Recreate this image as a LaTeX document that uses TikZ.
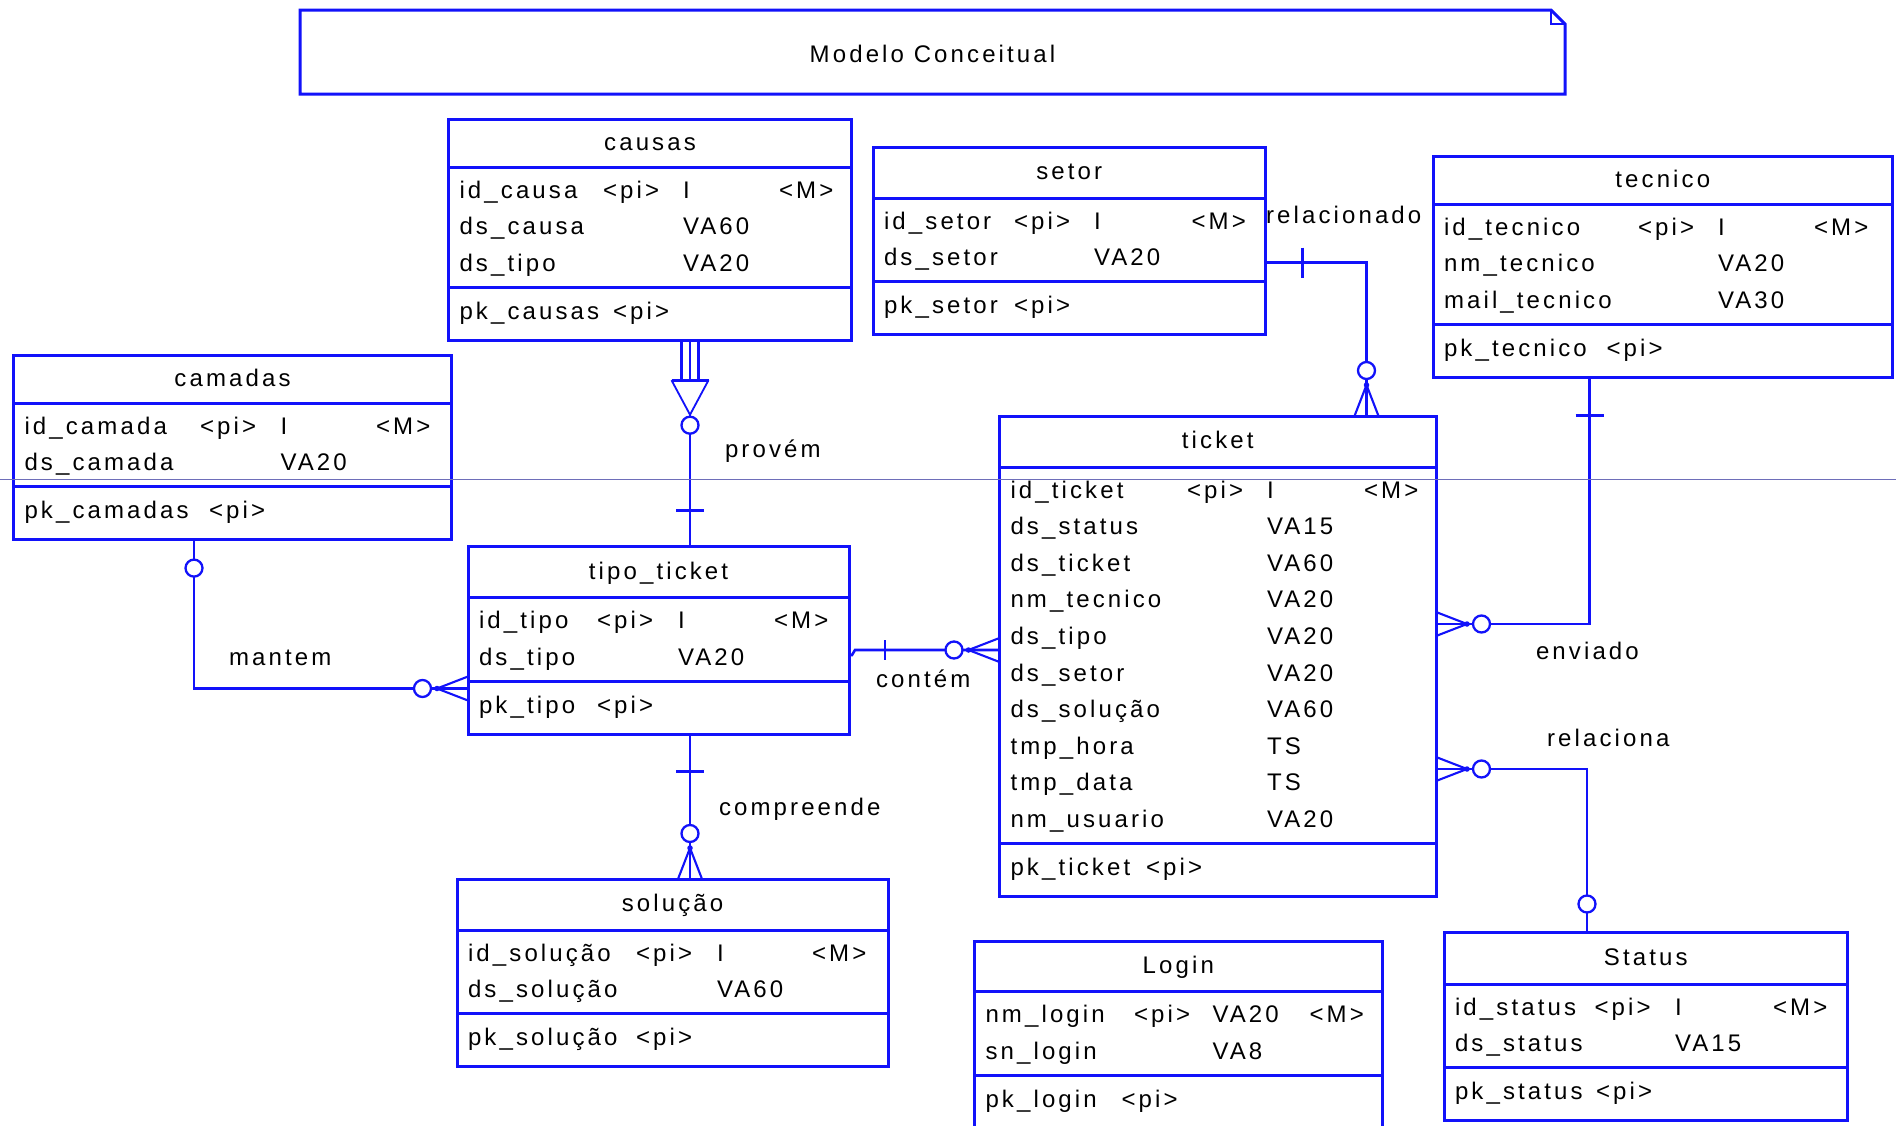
\documentclass[tikz,border=0pt]{standalone}
\usepackage{fontspec}
\setmainfont{Liberation Sans}[LetterSpace=13]
\definecolor{erblue}{RGB}{18,18,250}
\definecolor{pageline}{RGB}{110,110,185}
\newcommand\erfont{\fontsize{24bp}{28bp}\selectfont}
\tikzset{
  entframe/.style={draw=erblue, line width=3bp, rectangle, inner sep=0pt, outer sep=0pt, anchor=north west},
  entline/.style={draw=erblue, line width=3bp},
  conn/.style={draw=erblue, line width=2.6bp},
  prong/.style={draw=erblue, line width=2.1bp},
  celltext/.style={anchor=base west, inner sep=0pt, outer sep=0pt, font=\erfont, text=black},
  headtext/.style={anchor=base, inner sep=0pt, outer sep=0pt, font=\erfont, text=black},
  optcirc/.style={circle, draw=erblue, fill=white, line width=2.3bp, minimum size=17bp, inner sep=0pt},
  junction/.style={circle, fill=erblue, minimum size=5.5bp, inner sep=0pt},
}
% entity: id, left, top, right, header height, title, <pi> column, type column, <M> column
\newcommand\entity[9]{%
  \gdef\eN{#1}\gdef\eL{#2}\gdef\eT{#3}\gdef\eR{#4}\gdef\eH{#5}%
  \gdef\eP{#7}\gdef\eY{#8}\gdef\eM{#9}%
  \node[headtext] (#1-title) at ({(#2+#4)/2}, {#3+#5/2+7}) {#6};%
}
% attribute row: index, name, identifier flag, type, mandatory flag
\newcommand\attr[5]{%
  \pgfmathsetmacro\yb{\eT+\eH+31+36.6*(#1-1)}%
  \node[celltext] (\eN-a#1) at (\eL+11, \yb) {#2};%
  \if\relax\detokenize{#3}\relax\else\node[celltext] (\eN-p#1) at (\eL+\eP, \yb) {#3};\fi
  \if\relax\detokenize{#4}\relax\else\node[celltext] (\eN-t#1) at (\eL+\eY, \yb) {#4};\fi
  \if\relax\detokenize{#5}\relax\else\node[celltext] (\eN-m#1) at (\eL+\eM, \yb) {#5};\fi
}
% closes an entity: number of rows, key name, key <pi> column
\newcommand\entityend[3]{%
  \pgfmathsetmacro\dv{\eT+\eH+47+36.6*(#1-1)}%
  \pgfmathsetmacro\eB{\dv+53}%
  \node[entframe, minimum width={(\eR-\eL)*1bp}, minimum height={(\eB-\eT)*1bp}] (\eN) at (\eL,\eT) {};%
  \draw[entline] ([yshift={-\eH*1bp}]\eN.north west) -- ([yshift={-\eH*1bp}]\eN.north east);%
  \draw[entline] ([yshift={-(\dv-\eT)*1bp}]\eN.north west) -- ([yshift={-(\dv-\eT)*1bp}]\eN.north east);%
  \node[celltext] (\eN-k) at (\eL+11, \dv+32) {#2};%
  \node[celltext] (\eN-kp) at (\eL+#3, \dv+32) {<pi>};%
}
% many side with optional circle: prefix, point on the entity edge, direction of the line
\newcommand\crowfoot[3]{%
  \begin{scope}[shift={(#2)}, rotate=#3]
    \draw[prong] (0,-12) -- (31,0) -- (0,12);
    \draw[prong] (0,0) -- (31,0);
    \node[junction] (#1-j) at (31,0) {};
    \node[optcirc] (#1-o) at (45.5,0) {};
  \end{scope}}
\begin{document}
\begin{tikzpicture}[x=1bp, y=-1bp]
\useasboundingbox (0,0) rectangle (1896,1125);
\clip (0,0) rectangle (1896,1125);
\fill[white] (0,0) rectangle (1896,1125);

% title note with folded corner
\node[inner sep=0pt, outer sep=0pt, minimum width=1265bp, minimum height=84bp, anchor=north west] (note) at (300,10) {};
\draw[entline] (note.north west) -- ([xshift=-14bp]note.north east) -- ([yshift=-14bp]note.north east) -- (note.south east) -- (note.south west) -- cycle;
\draw[erblue, line width=1.4bp] ([xshift=-14bp]note.north east) |- ([yshift=-14bp]note.north east);
\node[headtext] (note-text) at ([yshift=-10bp]note.center) {Modelo Conceitual};

% entities
\entity{causas}{448.5}{119.5}{851.5}{47.5}{causas}{154.5}{234.5}{330.5}
\attr{1}{id\_causa}{<pi>}{I}{<M>}
\attr{2}{ds\_causa}{}{VA60}{}
\attr{3}{ds\_tipo}{}{VA20}{}
\entityend{3}{pk\_causas}{164.5}

\entity{setor}{873}{147}{1265.5}{51}{setor}{141}{221}{318.5}
\attr{1}{id\_setor}{<pi>}{I}{<M>}
\attr{2}{ds\_setor}{}{VA20}{}
\entityend{2}{pk\_setor}{141}

\entity{tecnico}{1433}{156}{1892.5}{48}{tecnico}{205}{285}{381}
\attr{1}{id\_tecnico}{<pi>}{I}{<M>}
\attr{2}{nm\_tecnico}{}{VA20}{}
\attr{3}{mail\_tecnico}{}{VA30}{}
\entityend{3}{pk\_tecnico}{173.5}

\entity{camadas}{13.5}{355}{451.5}{48}{camadas}{186.5}{267}{362.5}
\attr{1}{id\_camada}{<pi>}{I}{<M>}
\attr{2}{ds\_camada}{}{VA20}{}
\entityend{2}{pk\_camadas}{195.5}

\entity{ticket}{999.5}{416}{1436}{51}{ticket}{187.5}{267.5}{364.5}
\attr{1}{id\_ticket}{<pi>}{I}{<M>}
\attr{2}{ds\_status}{}{VA15}{}
\attr{3}{ds\_ticket}{}{VA60}{}
\attr{4}{nm\_tecnico}{}{VA20}{}
\attr{5}{ds\_tipo}{}{VA20}{}
\attr{6}{ds\_setor}{}{VA20}{}
\attr{7}{ds\_solução}{}{VA60}{}
\attr{8}{tmp\_hora}{}{TS}{}
\attr{9}{tmp\_data}{}{TS}{}
\attr{10}{nm\_usuario}{}{VA20}{}
\entityend{10}{pk\_ticket}{146.5}

\entity{tipo}{468}{546.7}{849}{51}{tipo\_ticket}{129}{210}{306}
\attr{1}{id\_tipo}{<pi>}{I}{<M>}
\attr{2}{ds\_tipo}{}{VA20}{}
\entityend{2}{pk\_tipo}{129}

\entity{solucao}{457}{879}{888}{51}{solução}{179}{260}{355}
\attr{1}{id\_solução}{<pi>}{I}{<M>}
\attr{2}{ds\_solução}{}{VA60}{}
\entityend{2}{pk\_solução}{179}

\entity{login}{974.5}{941}{1382}{50.5}{Login}{159.5}{238}{335}
\attr{1}{nm\_login}{<pi>}{VA20}{<M>}
\attr{2}{sn\_login}{}{VA8}{}
\entityend{2}{pk\_login}{147}

\entity{status}{1444}{932.5}{1847.5}{51.5}{Status}{150.5}{231}{329}
\attr{1}{id\_status}{<pi>}{I}{<M>}
\attr{2}{ds\_status}{}{VA15}{}
\entityend{2}{pk\_status}{152}

% provém: causas -> tipo_ticket
\coordinate (pv) at (690,400);
\coordinate (pv-t) at (causas.south -| pv);
\coordinate (pv-b) at (tipo.north -| pv);
\coordinate (pv-bar) at ([yshift=-40bp]pv-t);
\coordinate (pv-apex) at ([yshift=-74.5bp]pv-t);
\foreach \dx in {-8.5,0,8.5}
  \draw[prong] ([xshift=\dx bp]pv-t) -- ([xshift=\dx bp]pv-bar);
\draw[conn] ([xshift=-18.5bp]pv-bar) -- ([xshift=18.5bp]pv-bar);
\draw[erblue, line width=1.8bp] ([xshift=-18.5bp]pv-bar) -- (pv-apex) -- ([xshift=18.5bp]pv-bar);
\draw[conn] (pv-apex) -- (pv-b);
\node[optcirc] (pv-o) at ([yshift=-85bp]pv-t) {};
\draw[conn] ([xshift=-14bp, yshift=36bp]pv-b) -- ([xshift=14bp, yshift=36bp]pv-b);

% relacionado: setor -> ticket
\coordinate (rl) at (1366.5,262.5);
\coordinate (rl-s) at (setor.east |- rl);
\coordinate (rl-e) at (ticket.north -| rl);
\draw[conn] (rl-s) -- (rl) -- (rl-e);
\draw[conn] ([xshift=37bp, yshift=15bp]rl-s) -- ([xshift=37bp, yshift=-15bp]rl-s);
\crowfoot{rl}{rl-e}{90}

% enviado: tecnico -> ticket
\coordinate (en) at (1589.5,624);
\coordinate (en-s) at (tecnico.south -| en);
\coordinate (en-e) at (ticket.east |- en);
\draw[conn] (en-s) -- (en) -- (en-e);
\draw[conn] ([xshift=-14bp, yshift=-38bp]en-s) -- ([xshift=14bp, yshift=-38bp]en-s);
\crowfoot{en}{en-e}{0}

% relaciona: ticket -> Status
\coordinate (ra) at (1587,769);
\coordinate (ra-s) at (ticket.east |- ra);
\coordinate (ra-e) at (status.north -| ra);
\draw[conn] (ra-s) -- (ra) -- (ra-e);
\crowfoot{ra}{ra-s}{0}
\node[optcirc] (ra-z) at ([yshift=28.5bp]ra-e) {};

% contém: tipo_ticket -> ticket
\coordinate (ct-a) at (852,655);
\coordinate (ct) at (855,650);
\coordinate (ct-e) at (ticket.west |- ct);
\draw[conn] (tipo.east |- ct-a) -- (ct-a) -- (ct) -- (ct-e);
\draw[conn] (885,640) -- (885,660);
\crowfoot{ct}{ct-e}{180}

% mantem: camadas -> tipo_ticket
\coordinate (mt) at (194,688.5);
\coordinate (mt-s) at (camadas.south -| mt);
\coordinate (mt-e) at (tipo.west |- mt);
\draw[conn] (mt-s) -- (mt) -- (mt-e);
\node[optcirc] (mt-z) at ([yshift=-28.5bp]mt-s) {};
\crowfoot{mt}{mt-e}{180}

% compreende: tipo_ticket -> solução
\coordinate (cp) at (690,800);
\coordinate (cp-s) at (tipo.south -| cp);
\coordinate (cp-e) at (solucao.north -| cp);
\draw[conn] (cp-s) -- (cp-e);
\draw[conn] ([xshift=-14bp, yshift=-37bp]cp-s) -- ([xshift=14bp, yshift=-37bp]cp-s);
\crowfoot{cp}{cp-e}{90}

% relationship names
\node[celltext] (lbl-provem) at (725,457) {provém};
\node[celltext] (lbl-relacionado) at (1266,223) {relacionado};
\node[celltext] (lbl-mantem) at (229,665) {mantem};
\node[celltext] (lbl-contem) at (876,687) {contém};
\node[celltext] (lbl-compreende) at (719,815) {compreende};
\node[celltext] (lbl-enviado) at (1536,659) {enviado};
\node[celltext] (lbl-relaciona) at (1547,746) {relaciona};

% page break guide
\draw[pageline, line width=1bp] (0,479.5) -- (1896,479.5);
\end{tikzpicture}
\end{document}
